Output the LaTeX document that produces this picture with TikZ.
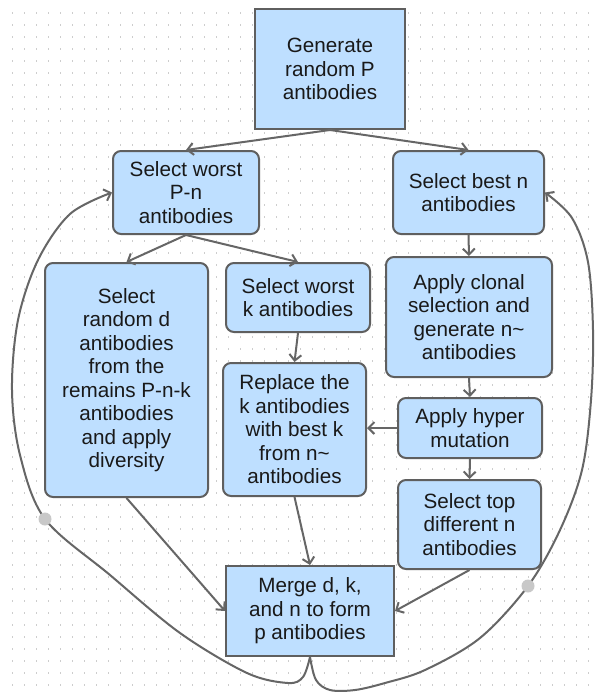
\documentclass[tikz,border=0pt]{standalone}
\usepackage{fontspec}
\setmainfont{Liberation Sans}
\usetikzlibrary{arrows.meta}
\definecolor{boxfill}{RGB}{190,223,255}
\definecolor{boxline}{RGB}{95,95,95}
\definecolor{connc}{RGB}{102,102,102}
\definecolor{griddot}{RGB}{205,205,205}
\definecolor{wpdot}{RGB}{200,200,200}
\begin{document}
\begin{tikzpicture}[x=0.75pt,y=-0.75pt,
  base/.style={draw=boxline, line width=1.5pt, fill=boxfill, align=center, inner sep=0pt,
    font=\fontsize{15.5pt}{17.6pt}\selectfont, text=black!90},
  wh/.style 2 args={minimum width=#1*0.75pt, minimum height=#2*0.75pt},
  sqbox/.style={base},
  rbox/.style={base, rounded corners=6pt},
  link/.style={draw=connc, line width=1.5pt, -{Straight Barb[length=4.5pt,width=9pt]}},
  wp/.style={fill=wpdot, draw=none},
]
\useasboundingbox (0,0) rectangle (596,696);
\fill[white] (0,0) rectangle (596,696);
\foreach \i in {1,...,49} \foreach \j in {1,...,57} \fill[griddot] (12*\i,12*\j) rectangle ++(1.3,2.2);

\node[sqbox, wh={150}{120}] (gen) at (330,69) {Generate\\random P\\antibodies};
\node[rbox, wh={146}{83}] (selworst) at (186,192.5) {Select worst\\P-n\\antibodies};
\node[rbox, wh={151}{83}] (selbest) at (468.5,192.5) {Select best n\\antibodies};
\node[rbox, wh={163}{234}] (selrand) at (126.5,380) {Select\\random d\\antibodies\\from the\\remains P-n-k\\antibodies\\and apply\\diversity};
\node[rbox, wh={144}{69}] (selk) at (298,297.5) {Select worst\\k antibodies};
\node[rbox, wh={166}{120}] (clonal) at (469,317) {Apply clonal\\selection and\\generate n\textasciitilde\\antibodies};
\node[rbox, wh={143}{133}] (replace) at (294.5,429.5) {Replace the\\k antibodies\\with best k\\from n\textasciitilde\\antibodies};
\node[rbox, wh={144}{60}] (hyper) at (470,428) {Apply hyper\\mutation};
\node[rbox, wh={143}{89}] (top) at (469.5,524.5) {Select top\\different n\\antibodies};
\node[sqbox, wh={168}{90}] (merge) at (310,611) {Merge d, k,\\and n to form\\p antibodies};

\coordinate (dl) at (45,519);
\coordinate (dr) at (528,586);

\draw[link] (gen.south) -- (selworst.north);
\draw[link] (gen.south) -- (selbest.north);
\draw[link] (selworst.south) -- (selrand.north);
\draw[link] (selworst.south) -- (selk.north);
\draw[link] (selbest.south) -- (clonal.north);
\draw[link] (clonal.south) -- (hyper.north);
\draw[link] (hyper.south) -- (top.north);
\draw[link] (hyper.west) -- (hyper.west -| replace.east);
\draw[link] (selk.south) -- (replace.north);
\draw[link] (replace.south) -- (merge.north);
\draw[link] (selrand.south) -- (merge.west);
\draw[link] (top.south) -- (merge.east);

\draw[link] plot[smooth, tension=0.55] coordinates {(merge.south) (303,677) (288,683) (247,673) (180,633) (110,575) (dl) (20,455) (12,390) (18,320) (38,260) (70,214) (selworst.west)};
\draw[link] plot[smooth, tension=0.55] coordinates {(merge.south) (316,680) (330,690) (355,690) (385,683) (425,670) (480,638) (dr) (560,530) (582,470) (591,400) (593,330) (588,262) (572,218) (selbest.east)};

\fill[wp] (dl) circle (6.5);
\fill[wp] (dr) circle (6.5);
\end{tikzpicture}
\end{document}
